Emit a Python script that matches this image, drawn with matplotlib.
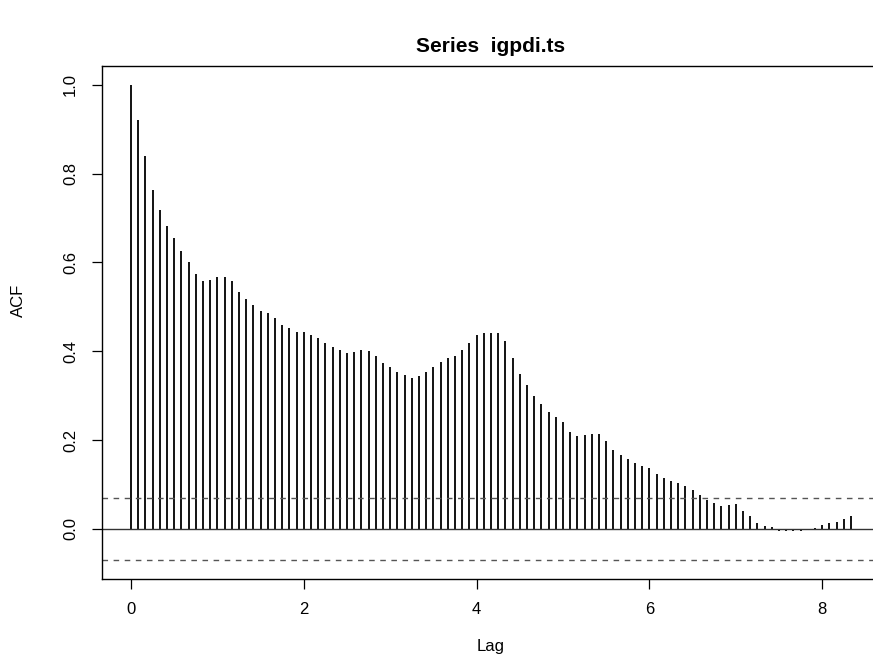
import matplotlib
matplotlib.use("Agg")
import matplotlib.pyplot as plt
import numpy as np

# valores (lags mensais 0..100)
acf_vals = [
    1.000, 0.920, 0.840, 0.764, 0.718, 0.682, 0.654, 0.625, 0.600, 0.573,
    0.558, 0.560, 0.566, 0.566, 0.559, 0.533, 0.517, 0.504, 0.491, 0.487,
    0.474, 0.460, 0.452, 0.444, 0.442, 0.437, 0.430, 0.419, 0.410, 0.402,
    0.396, 0.398, 0.402, 0.401, 0.390, 0.373, 0.364, 0.352, 0.347, 0.339,
    0.343, 0.354, 0.364, 0.375, 0.385, 0.390, 0.403, 0.418, 0.437, 0.441,
    0.441, 0.440, 0.422, 0.384, 0.349, 0.323, 0.300, 0.280, 0.264, 0.251,
    0.240, 0.219, 0.210, 0.212, 0.213, 0.214, 0.197, 0.178, 0.166, 0.156,
    0.149, 0.142, 0.136, 0.124, 0.114, 0.108, 0.103, 0.097, 0.087, 0.075,
    0.065, 0.057, 0.052, 0.053, 0.055, 0.041, 0.028, 0.013, 0.007, 0.003,
    -0.004, -0.006, -0.005, -0.004, -0.001, 0.002, 0.009, 0.013, 0.016, 0.021,
    0.028,
]
freq = 12
ci = 0.0703
lags = np.arange(len(acf_vals)) / freq

plt.rcParams['font.family'] = ['Liberation Sans', 'DejaVu Sans']

fig = plt.figure(figsize=(8.73, 6.55), dpi=100)
W, H = 873, 655
left, right, top, bottom = 102.3, 879.8, 65.7, 579.0
ax = fig.add_axes([left / W, 1 - bottom / H, (right - left) / W, (bottom - top) / H])

ax.vlines(lags, 0, acf_vals, colors='black', linewidth=1.3)
ax.axhline(0, color='#333333', linewidth=1.0)
ax.axhline(ci, color='#555555', linewidth=1.0, linestyle=(0, (4, 4)))
ax.axhline(-ci, color='#555555', linewidth=1.0, linestyle=(0, (4, 4)))

span = lags[-1] - lags[0]
ax.set_xlim(lags[0] - 0.04 * span, lags[-1] + 0.04 * span)
ymin, ymax = -ci, 1.0
yr = ymax - ymin
ax.set_ylim(ymin - 0.04 * yr, ymax + 0.04 * yr)

ax.set_xticks([0, 2, 4, 6, 8])
ax.set_yticks([0.0, 0.2, 0.4, 0.6, 0.8, 1.0])
ax.set_yticklabels(['0.0', '0.2', '0.4', '0.6', '0.8', '1.0'], rotation=90, va='center')
ax.tick_params(direction='out', length=7.5, width=0.9, labelsize=12, pad=9)
ax.tick_params(axis='y', pad=10)
ax.spines['right'].set_visible(False)
for s in ['left', 'bottom', 'top']:
    ax.spines[s].set_linewidth(1.0)

fig.text(491 / W, 1 - 47 / H, 'Series  igpdi.ts', ha='center', va='center',
         fontsize=15, fontweight='bold')
fig.text(491 / W, 1 - 646 / H, 'Lag', ha='center', va='center', fontsize=12)
fig.text(18 / W, 1 - 300 / H, 'ACF', ha='center', va='center', fontsize=12, rotation=90)

fig.savefig('out.png', dpi=100)
